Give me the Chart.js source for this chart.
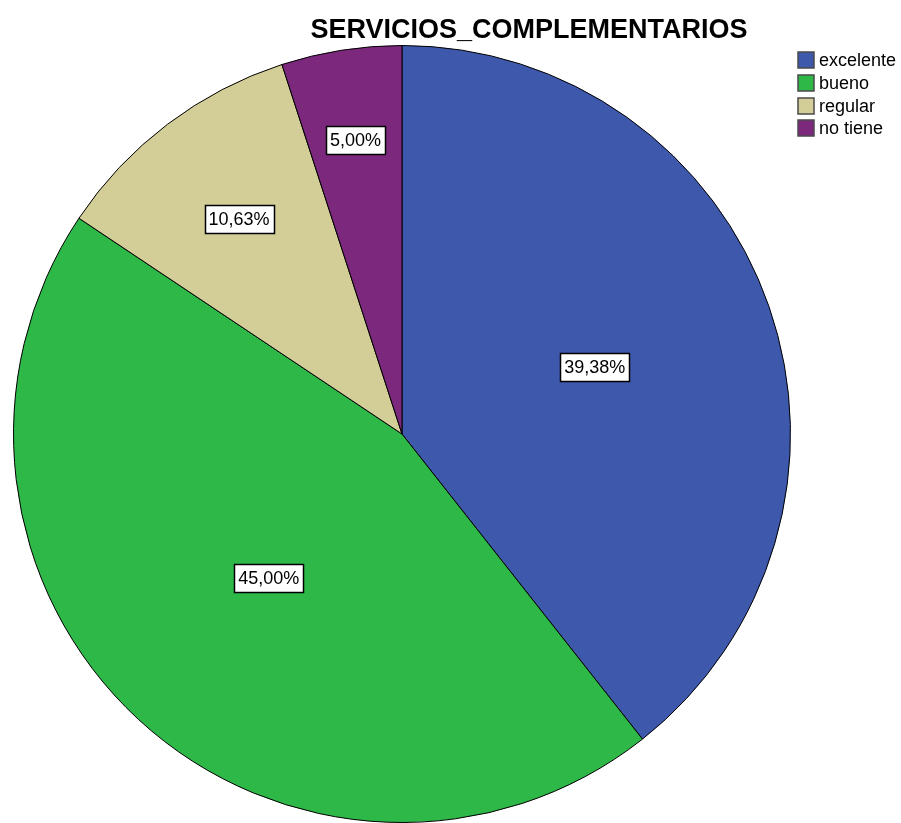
<!doctype html>
<html lang="es">
<head>
<meta charset="utf-8">
<title>SERVICIOS_COMPLEMENTARIOS</title>
<script src="https://cdn.jsdelivr.net/npm/chart.js@4.4.0/dist/chart.umd.min.js"></script>
<style>
  body { margin: 0; background: #ffffff; overflow: hidden; }
  #pie { display: block; }
</style>
</head>
<body>
<canvas id="pie" width="901" height="823"></canvas>
<script>
  // data
  var categories = ['excelente', 'bueno', 'regular', 'no tiene'];
  var percents = [39.38, 45.00, 10.63, 5.00];
  var sliceColors = ['#3e58ac', '#2eb848', '#d3ce97', '#7c287d'];
  // how far out (fraction of radius) each label sits
  var labelRadius = [0.525, 0.505, 0.695, 0.765];

  var FONT = '"Liberation Sans", Arial, sans-serif';

  function fmt(v) {
    return v.toFixed(2).replace('.', ',') + '%';
  }

  // white boxed percentage labels
  var sliceLabels = {
    id: 'sliceLabels',
    afterDatasetsDraw: function(chart) {
      var ctx = chart.ctx;
      var meta = chart.getDatasetMeta(0);
      ctx.save();
      ctx.font = '18px ' + FONT;
      ctx.textAlign = 'center';
      ctx.textBaseline = 'middle';
      meta.data.forEach(function(arc, i) {
        var mid = (arc.startAngle + arc.endAngle) / 2;
        var r = arc.outerRadius * labelRadius[i];
        var x = arc.x + Math.cos(mid) * r;
        var y = arc.y + Math.sin(mid) * r;
        var txt = fmt(percents[i]);
        var w = Math.round(ctx.measureText(txt).width + 8);
        var h = 28;
        var bx = Math.round(x - w / 2) + 0.5;
        var by = Math.round(y - h / 2) + 0.5;
        ctx.fillStyle = '#ffffff';
        ctx.fillRect(bx, by, w, h);
        ctx.strokeStyle = '#000000';
        ctx.lineWidth = 1.5;
        ctx.strokeRect(bx, by, w, h);
        ctx.fillStyle = '#000000';
        ctx.fillText(txt, x, y + 1);
      });
      ctx.restore();
    }
  };

  // title + legend top right
  var decorations = {
    id: 'decorations',
    afterDraw: function(chart) {
      var ctx = chart.ctx;
      ctx.save();
      ctx.fillStyle = '#000000';
      ctx.font = 'bold 27px ' + FONT;
      ctx.textAlign = 'center';
      ctx.textBaseline = 'alphabetic';
      ctx.fillText('SERVICIOS_COMPLEMENTARIOS', 529, 38);

      ctx.font = '18px ' + FONT;
      ctx.textAlign = 'left';
      ctx.textBaseline = 'middle';
      categories.forEach(function(c, i) {
        var y = 60 + i * 22.8;
        ctx.fillStyle = sliceColors[i];
        ctx.fillRect(798, Math.round(y - 8), 16, 16);
        ctx.strokeStyle = '#4a4a4a';
        ctx.lineWidth = 1.5;
        ctx.strokeRect(798, Math.round(y - 8), 16, 16);
        ctx.fillStyle = '#000000';
        ctx.fillText(c, 819, y + 1);
      });
      ctx.restore();
    }
  };

  new Chart(document.getElementById('pie'), {
    type: 'pie',
    data: {
      labels: categories,
      datasets: [{
        data: percents,
        backgroundColor: sliceColors,
        borderColor: '#000000',
        borderWidth: 1,
        hoverOffset: 0,
        offset: 0
      }]
    },
    options: {
      responsive: false,
      animation: false,
      rotation: 0,
      layout: { padding: { left: 11, top: 45, right: 108, bottom: 0 } },
      plugins: {
        legend: { display: false },
        title: { display: false },
        tooltip: { enabled: false }
      },
      events: []
    },
    plugins: [sliceLabels, decorations]
  });
</script>
</body>
</html>
